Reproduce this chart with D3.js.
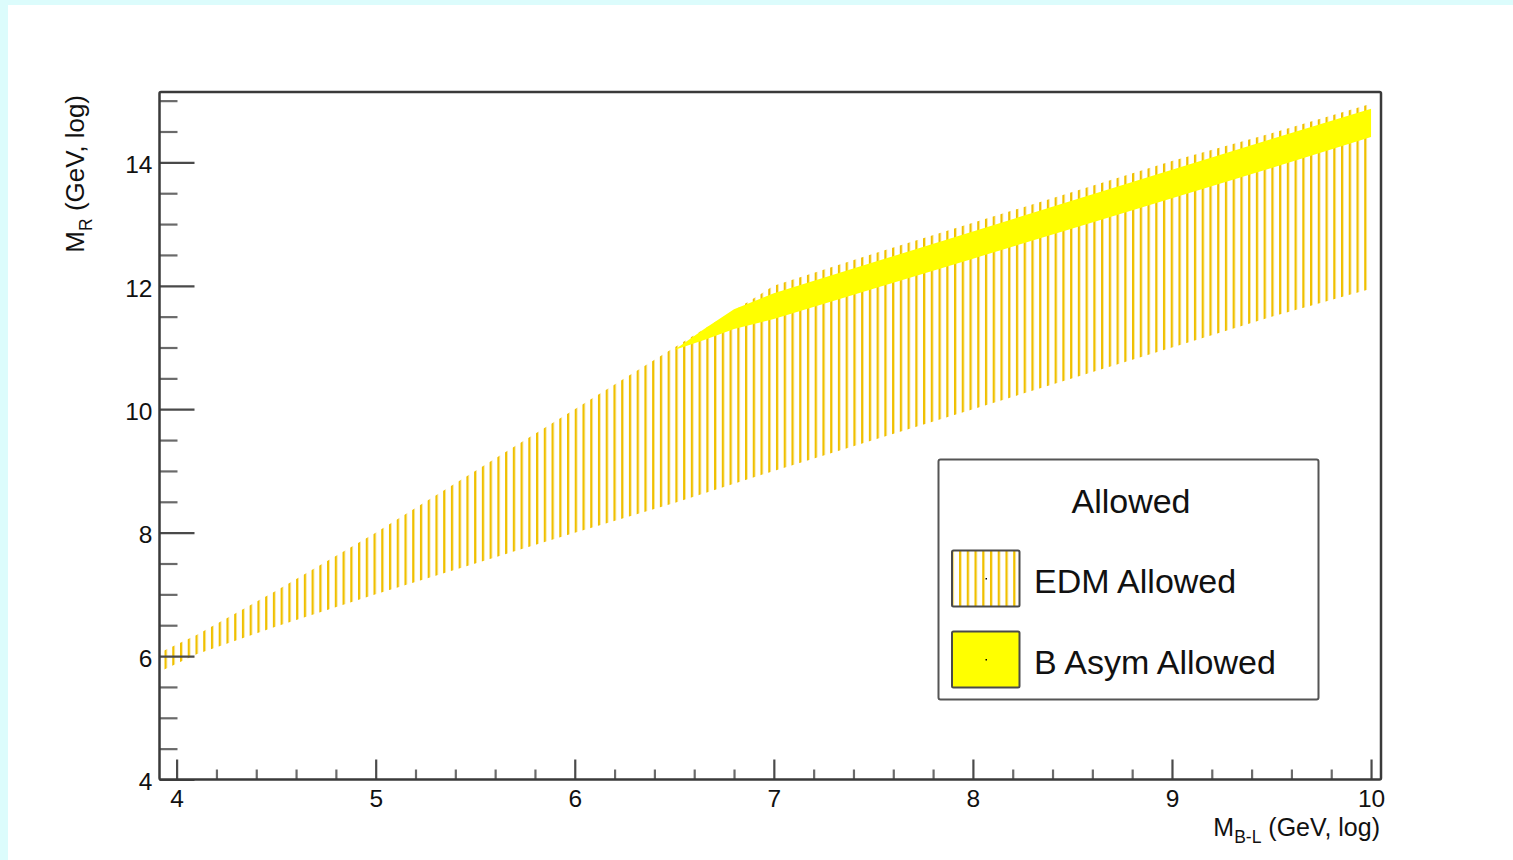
<!DOCTYPE html>
<html>
<head>
<meta charset="utf-8">
<script src="https://cdn.jsdelivr.net/npm/d3@7"></script>
<style>
  html, body { margin: 0; padding: 0; background: #dcfcfc; }
  svg { display: block; }
  text { font-family: "Liberation Sans", Arial, Helvetica, sans-serif; fill: #111; }
</style>
</head>
<body>
<svg id="chart" width="1513" height="860"></svg>
<script>
// Allowed region in the (M_B-L, M_R) plane, both on a log10 GeV scale

// EDM allowed band, lower and upper edge per x
const edmX    = [3.93, 4.1, 4.5, 5.0, 5.5, 6.0, 6.5, 7.0, 7.5, 8.0, 8.5, 9.0, 9.5, 10.0];
const edmLow  = [5.77, 6.03, 6.48, 7.0, 7.5, 8.0, 8.48, 9.0, 9.5, 10.0, 10.5, 11.0, 11.5, 11.95];
const edmHigh = [6.08, 6.34, 7.06, 8.0, 9.0, 10.0, 11.0, 12.0, 12.52, 13.02, 13.52, 14.02, 14.47, 14.95];

// Baryon asymmetry allowed band
const asymX    = [6.5, 6.65, 6.8, 7.0, 7.5, 8.0, 8.5, 9.0, 9.5, 10.0];
const asymLow  = [10.96, 11.12, 11.3, 11.46, 11.95, 12.44, 12.93, 13.42, 13.91, 14.41];
const asymHigh = [10.96, 11.3, 11.62, 11.88, 12.38, 12.88, 13.38, 13.88, 14.38, 14.87];

// Axis ticks
const xMajor = [4, 5, 6, 7, 8, 9, 10];
const xMinor = [4.2, 4.4, 4.6, 4.8, 5.2, 5.4, 5.6, 5.8, 6.2, 6.4, 6.6, 6.8, 7.2, 7.4, 7.6, 7.8,
                8.2, 8.4, 8.6, 8.8, 9.2, 9.4, 9.6, 9.8];
const yMajor = [4, 6, 8, 10, 12, 14];
const yMinor = [4.5, 5, 5.5, 6.5, 7, 7.5, 8.5, 9, 9.5, 10.5, 11, 11.5, 12.5, 13, 13.5, 14.5, 15];

const legendTitle = "Allowed";
const legendNames = ["EDM Allowed", "B Asym Allowed"];

const hatchColor = "#f0c000";
const asymColor = "#ffff00";
const frameColor = "#3a3a3a";

const svg = d3.select("#chart");

// white canvas inside the cyan border
svg.append("rect")
  .attr("x", 8).attr("y", 5)
  .attr("width", 1505).attr("height", 855)
  .attr("fill", "#ffffff");

const frame = {left: 159.5, right: 1381, top: 92, bottom: 779.5};

const x = d3.scaleLinear().domain([3.914, 10.05]).range([frame.left, frame.right]);
const y = d3.scaleLinear().domain([4, 15.14]).range([frame.bottom, frame.top]);

const defs = svg.append("defs");

function hatchPattern(id, x0) {
  const p = defs.append("pattern")
    .attr("id", id)
    .attr("patternUnits", "userSpaceOnUse")
    .attr("x", x0)
    .attr("width", 7.74)
    .attr("height", 20);
  p.append("rect")
    .attr("width", 2.3)
    .attr("height", 20)
    .attr("fill", hatchColor);
}

hatchPattern("edmHatch", 164.5);
hatchPattern("legendHatch", 959);

defs.append("clipPath").attr("id", "plotClip")
  .append("rect")
  .attr("x", frame.left).attr("y", frame.top)
  .attr("width", frame.right - frame.left)
  .attr("height", frame.bottom - frame.top);

const band = d3.area()
  .x(d => x(d[0]))
  .y0(d => y(d[1]))
  .y1(d => y(d[2]));

const plot = svg.append("g").attr("clip-path", "url(#plotClip)");

plot.append("path")
  .datum(d3.zip(edmX, edmLow, edmHigh))
  .attr("d", band)
  .attr("fill", "url(#edmHatch)");

plot.append("path")
  .datum(d3.zip(asymX, asymLow, asymHigh))
  .attr("d", band)
  .attr("fill", asymColor);

// axes, ticks point inwards

const yAxisMinor = d3.axisLeft(y).tickValues(yMinor).tickSize(-18).tickFormat("");
const yAxisMajor = d3.axisLeft(y).tickValues(yMajor).tickSize(-35).tickPadding(7).tickFormat(d3.format("d"));
const xAxisMinor = d3.axisBottom(x).tickValues(xMinor).tickSize(-10).tickFormat("");
const xAxisMajor = d3.axisBottom(x).tickValues(xMajor).tickSize(-20).tickPadding(10).tickFormat(d3.format("d"));

function styleAxis(g, color) {
  g.select(".domain").remove();
  g.selectAll(".tick line").attr("stroke", color).attr("stroke-width", 2.2);
  g.selectAll(".tick text")
    .attr("font-size", 24.5)
    .attr("font-family", "Liberation Sans, Arial, sans-serif")
    .attr("fill", "#111");
}

svg.append("g").attr("transform", `translate(${frame.left},0)`).call(yAxisMinor).call(styleAxis, "#6a6a6a");
svg.append("g").attr("transform", `translate(${frame.left},0)`).call(yAxisMajor).call(styleAxis, "#4a4a4a")
  .selectAll(".tick text").attr("dy", "0.42em");
svg.append("g").attr("transform", `translate(0,${frame.bottom})`).call(xAxisMinor).call(styleAxis, "#6a6a6a");
svg.append("g").attr("transform", `translate(0,${frame.bottom})`).call(xAxisMajor).call(styleAxis, "#4a4a4a");

svg.append("rect")
  .attr("x", frame.left).attr("y", frame.top)
  .attr("width", frame.right - frame.left)
  .attr("height", frame.bottom - frame.top)
  .attr("fill", "none")
  .attr("stroke", frameColor)
  .attr("stroke-width", 2.5)
  .attr("rx", 1.5);

// axis titles

const xTitle = svg.append("text")
  .attr("x", frame.right - 1)
  .attr("y", 836)
  .attr("text-anchor", "end")
  .attr("font-size", 25);
xTitle.append("tspan").text("M");
xTitle.append("tspan").attr("font-size", 17.5).attr("dy", 7).text("B-L");
xTitle.append("tspan").attr("dy", -7).text(" (GeV, log)");

const yTitle = svg.append("text")
  .attr("transform", "translate(84,95) rotate(-90)")
  .attr("text-anchor", "end")
  .attr("font-size", 26);
yTitle.append("tspan").text("M");
yTitle.append("tspan").attr("font-size", 17.5).attr("dy", 8).text("R");
yTitle.append("tspan").attr("dy", -8).text(" (GeV, log)");

// legend

const legend = svg.append("g");

legend.append("rect")
  .attr("x", 938.5).attr("y", 459.5)
  .attr("width", 380).attr("height", 240)
  .attr("rx", 2)
  .attr("fill", "#ffffff")
  .attr("stroke", "#555")
  .attr("stroke-width", 2);

legend.append("text")
  .attr("x", 1131).attr("y", 513)
  .attr("text-anchor", "middle")
  .attr("font-size", 34)
  .text(legendTitle);

const swatchFill = ["url(#legendHatch)", asymColor];
const rowY = [550.5, 631.5];

legendNames.forEach((name, i) => {

  legend.append("rect")
    .attr("x", 952).attr("y", rowY[i])
    .attr("width", 67.5).attr("height", 56)
    .attr("rx", 1.5)
    .attr("fill", swatchFill[i])
    .attr("stroke", "#4a4a4a")
    .attr("stroke-width", 2);

  // ROOT draws a tiny marker in the middle of the box
  legend.append("rect")
    .attr("x", 985.5).attr("y", rowY[i] + 27.5)
    .attr("width", 1.5).attr("height", 1.5)
    .attr("fill", "#000");

  legend.append("text")
    .attr("x", 1034).attr("y", rowY[i] + 42)
    .attr("font-size", 34)
    .text(name);
});
</script>
</body>
</html>
